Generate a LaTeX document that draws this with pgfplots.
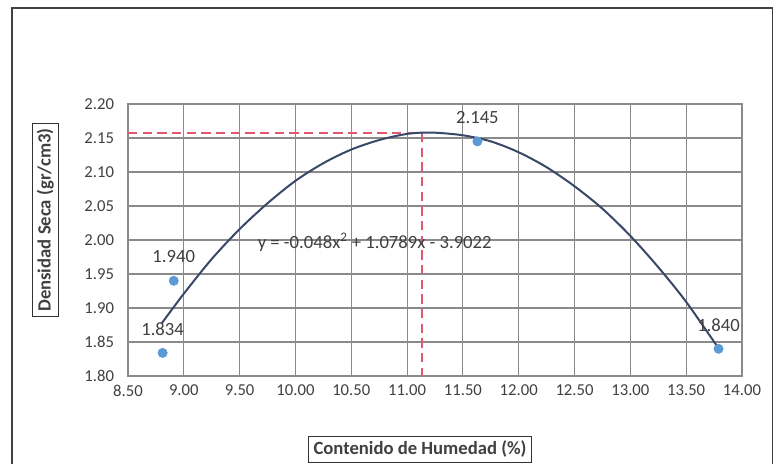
\documentclass[border=0pt]{standalone}
\usepackage{pgfplots}
\pgfplotsset{compat=1.18}
\usepackage{fontspec}
\setmainfont{Carlito}
\definecolor{ptblue}{HTML}{5B9BD5}
\definecolor{curve}{HTML}{3A4868}
\definecolor{redd}{HTML}{E2566E}
\definecolor{gridc}{HTML}{8A8A8A}
\definecolor{txt}{HTML}{404040}
\begin{document}
\begin{tikzpicture}
\useasboundingbox (-96pt,-66pt) rectangle (486pt,282pt);
\fill[white] (-96pt,-66pt) rectangle (486pt,282pt);
\draw[black!75, line width=1pt] (-87pt,-70pt) -- (-87pt,276pt) -- (483.5pt,276pt) -- (483.5pt,-70pt);
\begin{axis}[
  at={(0,0)}, anchor=south west,
  scale only axis, width=460.5pt, height=204pt,
  xmin=8.5, xmax=14, ymin=1.8, ymax=2.2,
  xtick={8.5,9,...,14}, ytick={1.8,1.85,...,2.2},
  grid=major, major grid style={gridc, line width=0.8pt},
  axis line style={gridc, line width=0.8pt},
  major tick length=0pt,
  tick label style={font=\fontsize{12.5}{14}\selectfont, text=txt},
  /pgf/number format/assume math mode=true,
  xticklabel={\pgfmathprintnumber[fixed,fixed zerofill,precision=2]{\tick}},
  yticklabel={\pgfmathprintnumber[fixed,fixed zerofill,precision=2]{\tick}},
  xticklabel style={yshift=-3pt},
  yticklabel style={xshift=-7pt},
  clip=false,
]
\addplot[redd, dashed, line width=1.6pt, dash pattern=on 7pt off 4pt] coordinates {(8.5,2.157) (11.13,2.157) (11.13,1.8)};
\addplot[curve, line width=1.5pt, smooth] coordinates {
(8.80,1.877) (9.00,1.921) (9.25,1.972) (9.50,2.016) (9.75,2.054)
(10.00,2.087) (10.25,2.113) (10.50,2.133) (10.75,2.147) (11.00,2.156)
(11.22,2.158) (11.50,2.154) (11.75,2.145) (12.00,2.129) (12.25,2.107)
(12.50,2.079) (12.75,2.046) (13.00,2.006) (13.25,1.960) (13.50,1.909)
(13.78,1.843)};
\addplot[only marks, mark=*, mark size=3.5pt, ptblue, mark options={draw=ptblue, fill=ptblue}] coordinates {
(8.81,1.834) (8.91,1.940) (11.63,2.145) (13.79,1.840)};
\node[font=\fontsize{14}{16}\selectfont, text=txt] at (axis cs:8.81,1.834) [yshift=18pt] {1.834};
\node[font=\fontsize{14}{16}\selectfont, text=txt] at (axis cs:8.91,1.940) [yshift=18pt] {1.940};
\node[font=\fontsize{14}{16}\selectfont, text=txt] at (axis cs:11.63,2.145) [yshift=18pt] {2.145};
\node[font=\fontsize{14}{16}\selectfont, text=txt] at (axis cs:13.79,1.840) [yshift=18pt] {1.840};
\node[font=\fontsize{14}{16}\selectfont, text=txt] at (axis cs:10.71,1.996) {y = -0.048x\textsuperscript{2} + 1.0789x - 3.9022};
\end{axis}
\node[draw=black!80, line width=0.9pt, rotate=90, inner sep=3.5pt, font=\fontsize{14}{16}\selectfont\bfseries, text=txt] at (-62pt,117pt) {Densidad Seca (gr/cm3)};
\node[draw=black!80, line width=0.9pt, inner sep=3.5pt, font=\fontsize{14}{16}\selectfont\bfseries, text=txt] at (219pt,-55pt) {Contenido de Humedad (\%)};
\end{tikzpicture}
\end{document}
